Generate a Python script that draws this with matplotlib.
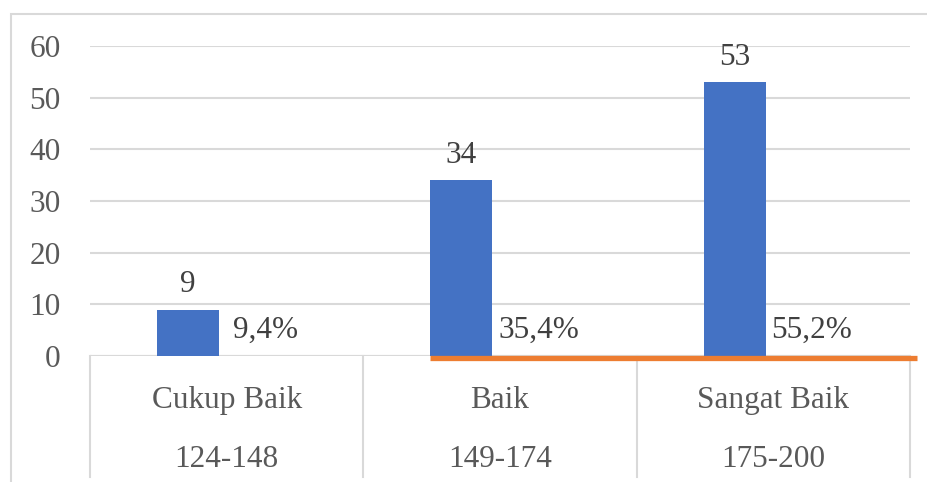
import matplotlib.pyplot as plt
from matplotlib.patches import Rectangle
from matplotlib.transforms import blended_transform_factory
import numpy as np

# data
kategori = ["Cukup Baik", "Baik", "Sangat Baik"]
rentang = ["124-148", "149-174", "175-200"]
frekuensi = [9, 34, 53]
persen = [9.4, 35.4, 55.2]

blue = "#4472C4"
orange = "#ED7D31"
grid = "#D9D9D9"
txt = "#595959"
fs = 22.5

plt.rcParams["font.family"] = ["Liberation Serif", "DejaVu Serif"]

fig = plt.figure(figsize=(9.27, 4.82), dpi=100)
ax = fig.add_axes([90 / 927, 1 - 356 / 482, 820 / 927, 310 / 482])

x = np.arange(len(kategori))
w = 0.227
off = 0.141

ax.bar(x - off, frekuensi, width=w, color=blue, zorder=3)

# the orange strip running along the base of the chart
ax.plot([x[1] - off - w / 2, 2.525], [-0.45, -0.45], color=orange, lw=3.8,
        solid_capstyle="butt", clip_on=False, zorder=4)

for xi, v in zip(x, frekuensi):
    ax.annotate(str(v), (xi - off, v), xytext=(0, 25), textcoords="offset pixels",
                ha="center", va="center", fontsize=fs, color="#404040")
for xi, p in zip(x, persen):
    ax.annotate(("%.1f%%" % p).replace(".", ","), (xi + off, 0), xytext=(0, 26),
                textcoords="offset pixels", ha="center", va="center",
                fontsize=fs, color="#404040")

ax.set_xlim(-0.5, 2.5)
ax.set_ylim(0, 60)
ax.set_yticks(range(0, 61, 10))
ax.set_xticks([])
ax.yaxis.grid(True, color=grid, lw=1.5, zorder=0)
ax.set_axisbelow(True)
for s in ax.spines.values():
    s.set_visible(False)
ax.tick_params(axis="y", length=0, pad=21, labelsize=fs, labelcolor=txt)

# axis base line and category separators
ax.axhline(0, color=grid, lw=1.5, zorder=1)
tr = blended_transform_factory(ax.transData, ax.transAxes)
for b in [-0.5, 0.5, 1.5, 2.5]:
    ax.plot([b, b], [0, -0.39], color=grid, lw=1.5, transform=tr, clip_on=False)
for xi, k, r in zip(x, kategori, rentang):
    ax.text(xi, -0.168, k, transform=tr, ha="center", va="baseline",
            fontsize=fs, color=txt)
    ax.text(xi, -0.358, r, transform=tr, ha="center", va="baseline",
            fontsize=fs, color=txt)

# chart area border
fig.patches.append(Rectangle((11 / 927, -0.1), 1.2, 1 - 14 / 482 + 0.1,
                             transform=fig.transFigure, fill=False,
                             edgecolor=grid, lw=1.5))

fig.savefig("out.png", dpi=100)
